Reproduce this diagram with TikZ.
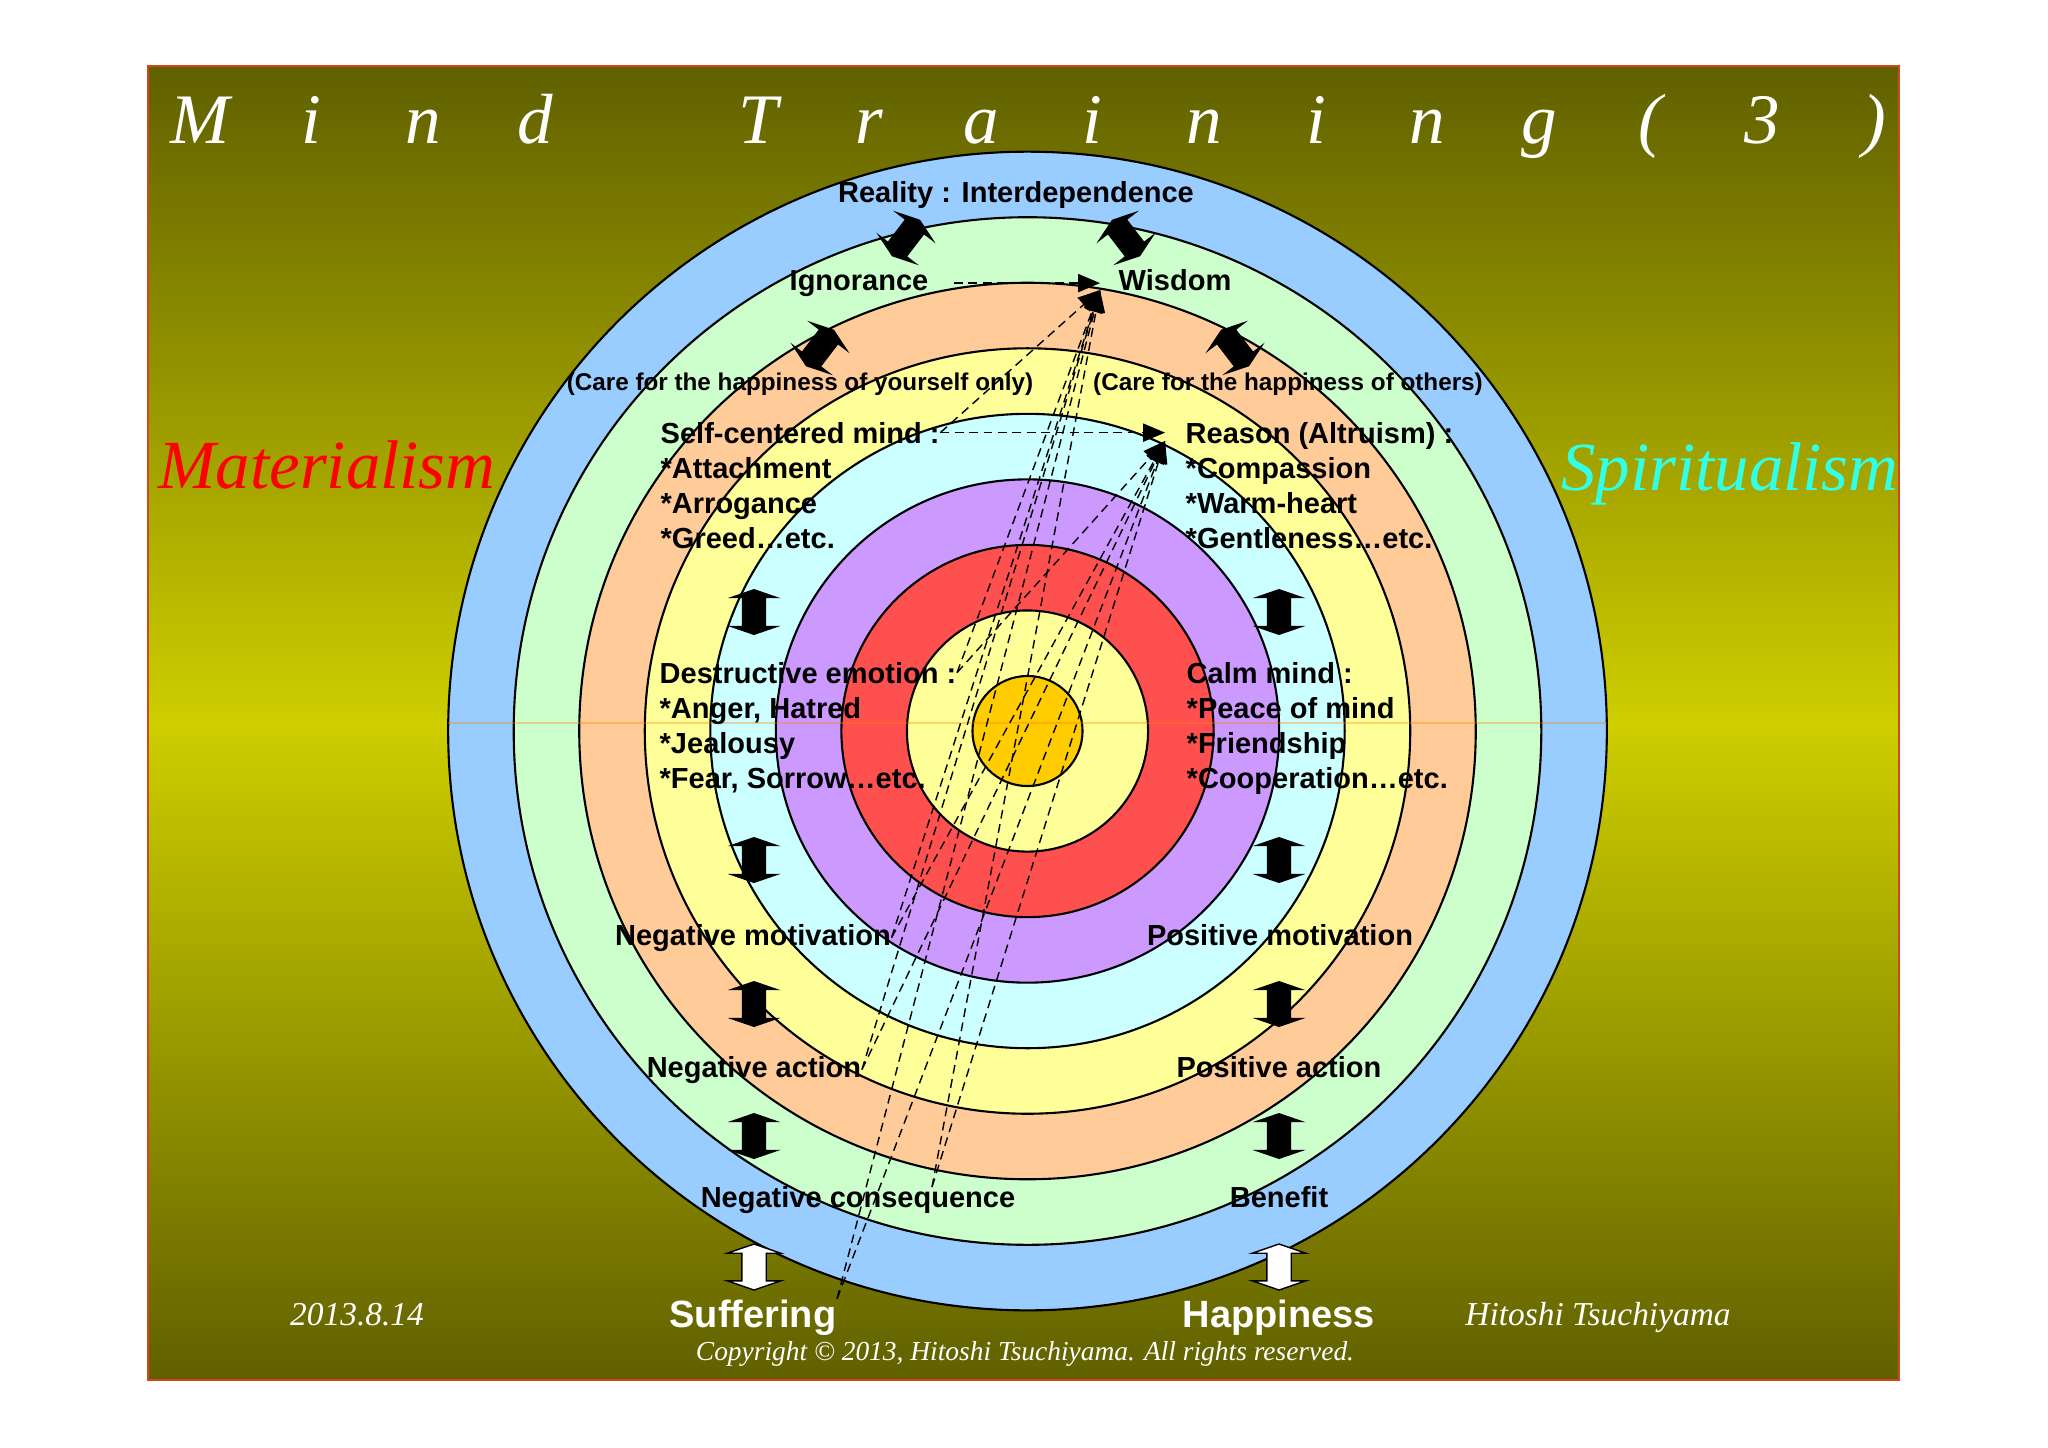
\documentclass[tikz,border=0pt]{standalone}
\usepackage{fontspec}
\newfontfamily\labelfont{Liberation Sans}
\newfontfamily\handfont{Liberation Serif}
\usetikzlibrary{arrows,shapes.arrows}

\definecolor{ringblue}{RGB}{153,204,255}
\definecolor{ringgreen}{RGB}{204,255,204}
\definecolor{ringpeach}{RGB}{255,204,153}
\definecolor{ringyellow}{RGB}{255,255,153}
\definecolor{ringcyan}{RGB}{204,255,255}
\definecolor{ringviolet}{RGB}{204,153,255}
\definecolor{ringred}{RGB}{255,80,80}
\definecolor{ringgold}{RGB}{255,204,0}
\definecolor{olivedark}{RGB}{96,96,0}
\definecolor{olivelight}{RGB}{206,206,0}
\definecolor{framered}{RGB}{214,70,30}
\definecolor{spiritcyan}{RGB}{51,255,230}

\begin{document}
\begin{tikzpicture}[x=0.01cm, y=-0.01cm, >=triangle 45,
  lbl/.style={font=\labelfont\bfseries\fontsize{8.25}{9.9}\selectfont, inner sep=0pt},
  smalllbl/.style={font=\labelfont\bfseries\fontsize{6.9}{8.3}\selectfont, inner sep=0pt},
  biglbl/.style={font=\labelfont\bfseries\fontsize{10.8}{13}\selectfont, text=white, inner sep=0pt},
  titlefont/.style={font=\handfont\itshape\fontsize{20.2}{22}\selectfont, text=white, inner sep=0pt},
  sidefont/.style={font=\handfont\itshape\fontsize{19.6}{22}\selectfont, inner sep=0pt},
  signfont/.style={font=\handfont\itshape\fontsize{9.5}{11}\selectfont, text=white, inner sep=0pt},
  dashlink/.style={->, thin, dash pattern=on 2.5pt off 1.6pt},
  swaparrow/.style={double arrow, minimum height=0.46cm, inner sep=0.115cm,
    double arrow head extend=0.145cm, double arrow tip angle=142},
]
\fill[white] (0,0) rectangle (2048,1447);
\useasboundingbox (0,0) rectangle (2048,1447);
\shade[top color=olivedark, bottom color=olivedark, middle color=olivelight] (148,66) rectangle (1899,1380);
\draw[framered, line width=0.6pt] (148,66) rectangle (1899,1380);

\coordinate (hub) at (1027.5,731);
\foreach \r/\c in {5.79/ringblue,5.135/ringgreen,4.48/ringpeach,3.825/ringyellow,3.17/ringcyan,2.515/ringviolet,1.86/ringred,1.205/ringyellow,0.55/ringgold}
  \draw[fill=\c, line width=0.6pt] (hub) circle[radius=\r cm];
\draw[orange, line width=0.4pt, opacity=0.35] (448,723) -- (1607,723);

\foreach \ch/\i in {M/0,i/1,n/2,d/3,T/5,r/6,a/7,i/8,n/9,i/10,n/11,g/12,{(}/13,3/14,{)}/15}
  \node[titlefont, anchor=base] (title-\i) at ({200+111.6*\i},143) {\ch};
\node[sidefont, text=red, anchor=base] (materialism) at (327,488) {Materialism};
\node[sidefont, text=spiritcyan, anchor=base] (spiritualism) at (1730,490) {Spiritualism};

\node[lbl, anchor=base] (reality) at (1016,202) {Reality : Interdependence};
\node[lbl, anchor=base] (ignorance) at (859,290) {Ignorance};
\node[lbl, anchor=base] (wisdom) at (1175,290) {Wisdom};
\node[smalllbl, anchor=base] (careself) at (800,390) {(Care for the happiness of yourself only)};
\node[smalllbl, anchor=base] (careothers) at (1288,390) {(Care for the happiness of others)};

\foreach \txt [count=\i from 0] in {Self-centered mind :, *Attachment, *Arrogance, *Greed…etc.}
  \node[lbl, anchor=base west] (selfmind-\i) at (660,{443+35*\i}) {\txt};
\foreach \txt [count=\i from 0] in {Reason (Altruism) :, *Compassion, *Warm-heart, *Gentleness…etc.}
  \node[lbl, anchor=base west] (reason-\i) at (1185,{443+35*\i}) {\txt};
\foreach \txt [count=\i from 0] in {Destructive emotion :, {*Anger, Hatred}, *Jealousy, {*Fear, Sorrow…etc.}}
  \node[lbl, anchor=base west] (destr-\i) at (659,{683+35*\i}) {\txt};
\foreach \txt [count=\i from 0] in {Calm mind :, *Peace of mind, *Friendship, *Cooperation…etc.}
  \node[lbl, anchor=base west] (calm-\i) at (1186,{683+35*\i}) {\txt};

\node[lbl, anchor=base] (negmot) at (753,945) {Negative motivation};
\node[lbl, anchor=base] (posmot) at (1280,945) {Positive motivation};
\node[lbl, anchor=base] (negact) at (754,1077) {Negative action};
\node[lbl, anchor=base] (posact) at (1279,1077) {Positive action};
\node[lbl, anchor=base] (negcons) at (858,1207) {Negative consequence};
\node[lbl, anchor=base] (benefit) at (1279,1207) {Benefit};
\node[biglbl, anchor=base] (suffering) at (753,1327) {Suffering};
\node[biglbl, anchor=base] (happiness) at (1279,1327) {Happiness};

\node[signfont, anchor=base] (date) at (357,1325) {2013.8.14};
\node[signfont, anchor=base] (author) at (1598,1325) {Hitoshi Tsuchiyama};
\node[signfont, font=\handfont\itshape\fontsize{7.8}{9}\selectfont, anchor=base] (copyright) at (1025,1360) {Copyright © 2013, Hitoshi Tsuchiyama. All rights reserved.};

\node[swaparrow, fill=black, rotate=52.5] (sw-1) at (906,238) {};
\node[swaparrow, fill=black, rotate=127.5] (sw-2) at (1126,238) {};
\node[swaparrow, fill=black, rotate=52.5] (sw-3) at (820,348) {};
\node[swaparrow, fill=black, rotate=127.5] (sw-4) at (1235,348) {};
\foreach \y [count=\i] in {612,860,1004,1136} {
  \node[swaparrow, fill=black, rotate=90] (neg-\i) at (754,\y) {};
  \node[swaparrow, fill=black, rotate=90] (pos-\i) at (1279,\y) {};
}
\node[swaparrow, fill=white, draw=black, thin, rotate=90] (neg-5) at (754,1267) {};
\node[swaparrow, fill=white, draw=black, thin, rotate=90] (pos-5) at (1279,1267) {};

\coordinate (wisdomtip) at (1100,290);
\coordinate (reasontip) at (1165,441);
\coordinate (conseqfoot) at (932,1187);
\draw[dashlink, shorten <=0.25cm] (ignorance.east) -- (ignorance.east -| wisdomtip);
\draw[dashlink] (selfmind-0.east) -- (selfmind-0.east -| reasontip);
\draw[dashlink] (selfmind-0.east) -- (wisdomtip);
\foreach \src in {destr-0.east, negmot.east, negact.east, conseqfoot, suffering.north east} {
  \draw[dashlink] (\src) -- (wisdomtip);
  \draw[dashlink] (\src) -- (reasontip);
}
\end{tikzpicture}
\end{document}
